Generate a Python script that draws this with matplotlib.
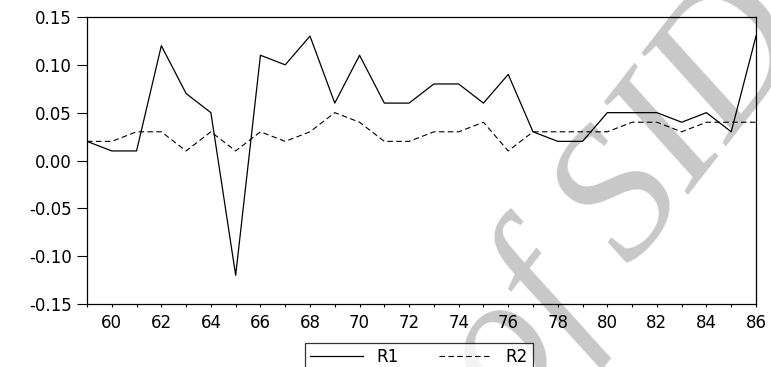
import numpy as np
import matplotlib.pyplot as plt

years = list(range(59, 87))
r1 = [0.02, 0.01, 0.01, 0.12, 0.07, 0.05, -0.12, 0.11, 0.10, 0.13,
      0.06, 0.11, 0.06, 0.06, 0.08, 0.08, 0.06, 0.09, 0.03, 0.02,
      0.02, 0.05, 0.05, 0.05, 0.04, 0.05, 0.03, 0.13]
r2 = [0.02, 0.02, 0.03, 0.03, 0.01, 0.03, 0.01, 0.03, 0.02, 0.03,
      0.05, 0.04, 0.02, 0.02, 0.03, 0.03, 0.04, 0.01, 0.03, 0.03,
      0.03, 0.03, 0.04, 0.04, 0.03, 0.04, 0.04, 0.04]
xticks = list(range(60, 87, 2))
yticks = [-0.15, -0.10, -0.05, 0.00, 0.05, 0.10, 0.15]

plt.rcParams['font.family'] = ['DejaVu Sans']

fig = plt.figure(figsize=(7.71, 3.67), dpi=100)
ax = fig.add_axes([87 / 771, 1 - 304 / 367, (756 - 87) / 771, (304 - 17) / 367])
ax.patch.set_alpha(0)

# watermark behind everything
fig.text(625 / 771, 1 - 200 / 367, 'of SID', rotation=52, fontsize=136,
         family='Liberation Serif', style='italic', color='#c8c8c8',
         ha='center', va='center', zorder=-5)

ax.plot(years, r1, color='black', lw=0.9, label='R1')
ax.plot(years, r2, color='black', lw=0.8, dashes=(5, 3), label='R2')

ax.set_xlim(59, 86)
ax.set_ylim(-0.15, 0.15)
ax.set_xticks(xticks)
ax.set_xticks(years, minor=True)
ax.set_yticks(yticks)
ax.set_yticklabels(['%.2f' % v for v in yticks])

ax.tick_params(axis='x', which='both', direction='out', length=2.5, width=0.8,
               labelsize=12, pad=5, top=False)
ax.tick_params(axis='y', direction='out', length=7, width=0.8, labelsize=12,
               pad=4, right=False)
for s in ax.spines.values():
    s.set_linewidth(0.9)
    s.set_color('black')

leg = ax.legend(loc='upper center', bbox_to_anchor=(419 / 771, 1 - 343 / 367),
                bbox_transform=fig.transFigure, ncol=2, frameon=True,
                fancybox=False, fontsize=12, handlelength=3.2,
                borderpad=0.3, borderaxespad=0, columnspacing=2.4,
                handletextpad=0.8)
leg.get_frame().set_edgecolor('black')
leg.get_frame().set_linewidth(0.9)

fig.savefig('out.png', dpi=100)
